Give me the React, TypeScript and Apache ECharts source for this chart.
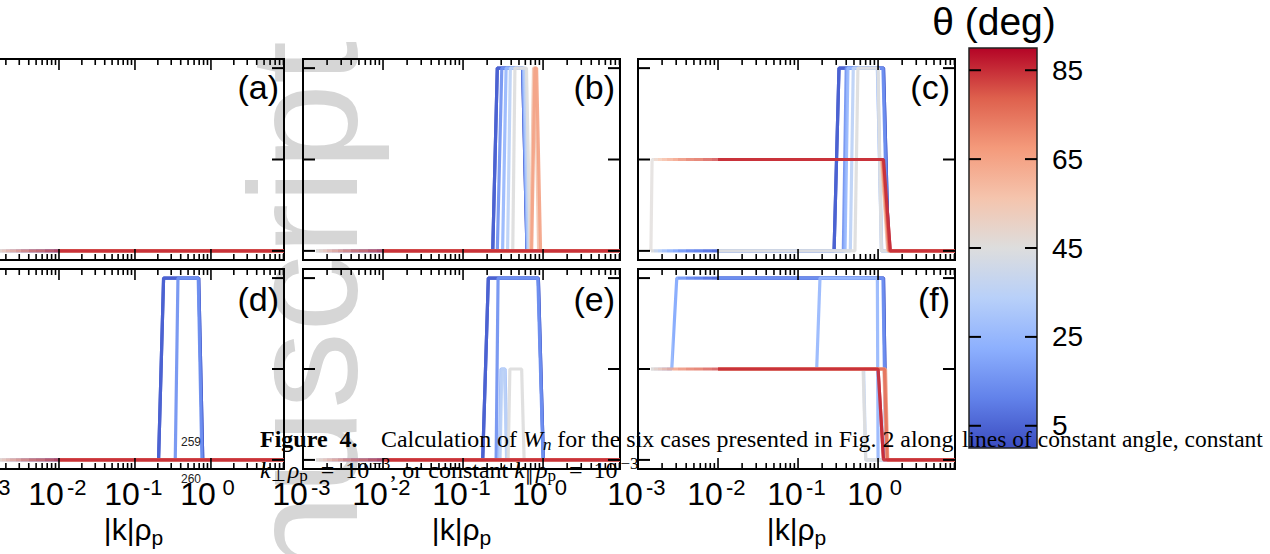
import React, { useEffect, useRef } from "react";
import * as echarts from "echarts";

const SANS = "'Liberation Sans', Arial, Helvetica, sans-serif";
const SERIF = "'Liberation Serif', 'Times New Roman', Times, serif";

// ---------------- data ----------------
const thetas = [5, 15, 25, 35, 45, 55, 65, 75, 85];
const kRange = [0.001, 9.15];
const wRange = [-0.1, 2.1];
const thetaRange = [0, 90];
const xMajorTicks = [0.001, 0.01, 0.1, 1];
const xMinorTicks = [
  0.002, 0.003, 0.004, 0.005, 0.006, 0.007, 0.008, 0.009,
  0.02, 0.03, 0.04, 0.05, 0.06, 0.07, 0.08, 0.09,
  0.2, 0.3, 0.4, 0.5, 0.6, 0.7, 0.8, 0.9,
  2, 3, 4, 5, 6, 7, 8, 9,
];
const yTicks = [0, 1, 2];
const cbTicks = [5, 25, 45, 65, 85];
const panelLabels = ["(a)", "(b)", "(c)", "(d)", "(e)", "(f)"];

// angle (deg) seen along the constant-k lines, per |k| segment
const kGrad = [0.00145, 0.0016, 0.0018, 0.002, 0.0023, 0.0027, 0.0032, 0.004, 0.005, 0.0065, 0.0085, 0.011, 0.02, 0.05, 9.15];
const thetaPar = [46, 51, 56, 60, 64, 68, 72, 76, 78, 81, 83, 85, 87, 89];
const thetaPerp = [44, 39, 34, 30, 26, 22, 18, 14, 12, 9, 7, 5, 3, 1];

const flatConst = [[0.01, 0], [9.15, 0]];
const flatGrad = [[0.00145, 0], [9.15, 0]];

// (a)
const aPerp = flatGrad;
const aPar = flatGrad;
const aTheta = [flatConst, flatConst, flatConst, flatConst, flatConst, flatConst, flatConst, flatConst, flatConst];

// (b)
const bPerp = [[0.00145, 0], [0.235, 0], [0.268, 2], [0.555, 2], [0.63, 0], [9.15, 0]];
const bPar = flatGrad;
const bTheta = [
  [[0.01, 0], [0.235, 0], [0.268, 2], [0.555, 2], [0.63, 0], [9.15, 0]],
  [[0.01, 0], [0.268, 0], [0.305, 2], [0.56, 2], [0.635, 0], [9.15, 0]],
  [[0.01, 0], [0.312, 0], [0.345, 2], [0.57, 2], [0.64, 0], [9.15, 0]],
  [[0.01, 0], [0.36, 0], [0.39, 2], [0.59, 2], [0.66, 0], [9.15, 0]],
  [[0.01, 0], [0.418, 0], [0.445, 2], [0.62, 2], [0.69, 0], [9.15, 0]],
  [[0.01, 0], [0.7, 0], [0.76, 2], [0.8, 2], [0.88, 0], [9.15, 0]],
  [[0.01, 0], [0.72, 0], [0.79, 2], [0.83, 2], [0.93, 0], [9.15, 0]],
  flatConst,
  flatConst,
];

// (c)
const cPerp = [[0.00145, 0], [0.282, 0], [0.325, 2], [1.17, 2], [1.35, 0], [9.15, 0]];
const cPar = [[0.00145, 0], [0.0015, 1], [1.17, 1], [1.42, 0], [9.15, 0]];
const cTheta = [
  [[0.01, 0], [0.282, 0], [0.325, 2], [1.17, 2], [1.35, 0], [9.15, 0]],
  [[0.01, 0], [0.368, 0], [0.4, 2], [1.15, 2], [1.32, 0], [9.15, 0]],
  [[0.01, 0], [0.386, 0], [0.42, 2], [0.98, 2], [1.11, 0], [9.15, 0]],
  [[0.01, 0], [0.45, 0], [0.49, 2], [0.99, 2], [1.1, 0], [9.15, 0]],
  [[0.01, 0], [0.514, 0], [0.56, 2], [1.0, 2], [1.1, 0], [9.15, 0]],
  [[0.01, 1], [1.1, 1], [1.32, 0], [9.15, 0]],
  [[0.01, 1], [1.12, 1], [1.35, 0], [9.15, 0]],
  [[0.01, 1], [1.15, 1], [1.38, 0], [9.15, 0]],
  [[0.01, 1], [1.17, 1], [1.42, 0], [9.15, 0]],
];

// (d)
const dPerp = [[0.00145, 0], [0.2045, 0], [0.238, 2], [0.69, 2], [0.78, 0], [9.15, 0]];
const dPar = flatGrad;
const dTheta = [
  [[0.01, 0], [0.2045, 0], [0.238, 2], [0.69, 2], [0.78, 0], [9.15, 0]],
  [[0.01, 0], [0.339, 0], [0.368, 2], [0.68, 2], [0.76, 0], [9.15, 0]],
  flatConst, flatConst, flatConst, flatConst, flatConst, flatConst, flatConst,
];

// (e)
const ePerp = [[0.00145, 0], [0.176, 0], [0.207, 2], [0.873, 2], [1.01, 0], [9.15, 0]];
const ePar = flatGrad;
const eTheta = [
  [[0.01, 0], [0.176, 0], [0.207, 2], [0.873, 2], [1.01, 0], [9.15, 0]],
  [[0.01, 0], [0.259, 0], [0.274, 2], [0.86, 2], [1.0, 0], [9.15, 0]],
  [[0.01, 0], [0.284, 0], [0.298, 1], [0.335, 1], [0.354, 0], [9.15, 0]],
  [[0.01, 0], [0.29, 0], [0.305, 1], [0.33, 1], [0.35, 0], [9.15, 0]],
  [[0.01, 0], [0.366, 0], [0.385, 1], [0.54, 1], [0.58, 0], [9.15, 0]],
  flatConst, flatConst, flatConst, flatConst,
];

// (f)
const fPerp = [[0.00145, 1], [0.00264, 1], [0.00305, 2], [1.17, 2], [1.27, 0], [9.15, 0]];
const fPar = [[0.00145, 1], [1.0, 1], [1.17, 0], [9.15, 0]];
const fTheta = [
  [[0.01, 2], [1.17, 2], [1.27, 0], [9.15, 0]],
  [[0.01, 2], [1.15, 2], [1.25, 0], [9.15, 0]],
  [[0.01, 1], [0.171, 1], [0.188, 2], [0.98, 2], [1.0, 0], [9.15, 0]],
  [[0.01, 1], [0.66, 1], [0.7, 0], [9.15, 0]],
  [[0.01, 1], [0.65, 1], [0.7, 0], [9.15, 0]],
  [[0.01, 1], [1.18, 1], [1.28, 0], [9.15, 0]],
  [[0.01, 1], [1.24, 1], [1.32, 0], [9.15, 0]],
  [[0.01, 1], [1.2, 1], [1.3, 0], [9.15, 0]],
  [[0.01, 1], [1.0, 1], [1.17, 0], [9.15, 0]],
];

// ---------------- styles ----------------
const coolwarmRGB = [
  [59, 76, 192], [98, 130, 234], [141, 176, 254], [184, 208, 249], [221, 221, 221],
  [245, 196, 173], [244, 154, 123], [222, 96, 77], [180, 4, 38],
];
function coolwarm(t: number): string {
  const x = Math.min(1, Math.max(0, t)) * 8;
  const i = Math.min(7, Math.floor(x));
  const f = x - i;
  const a = coolwarmRGB[i];
  const b = coolwarmRGB[i + 1];
  const c = a.map((v, j) => Math.round(v + (b[j] - v) * f));
  return `rgb(${c[0]},${c[1]},${c[2]})`;
}

const LEFTS = [-17, 303, 638];
const WIDTHS = [301, 317, 317];
const TOPS = [59, 269];
const HEIGHTS = [201, 200];

function renderTicks(params: any, api: any) {
  const cs = params.coordSys;
  const kind = api.value(2);
  const p = api.coord([api.value(0), api.value(1)]);
  const st = { stroke: "#000", lineWidth: kind === 2 ? 2 : 1.6 };
  if (kind === 2) {
    return {
      type: "group",
      children: [
        { type: "line", shape: { x1: cs.x, y1: p[1], x2: cs.x + 12, y2: p[1] }, style: st },
        { type: "line", shape: { x1: cs.x + cs.width, y1: p[1], x2: cs.x + cs.width - 12, y2: p[1] }, style: st },
      ],
    };
  }
  const len = kind === 0 ? 11 : 6;
  const yb = cs.y + cs.height;
  return {
    type: "group",
    children: [
      { type: "line", shape: { x1: p[0], y1: yb, x2: p[0], y2: yb - len }, style: st },
      { type: "line", shape: { x1: p[0], y1: cs.y, x2: p[0], y2: cs.y + len }, style: st },
    ],
  };
}

function renderCb(params: any, api: any) {
  const cs = params.coordSys;
  const p = api.coord([api.value(0), api.value(1)]);
  const st = { stroke: "#000", lineWidth: 2 };
  return {
    type: "group",
    children: [
      { type: "line", shape: { x1: cs.x, y1: p[1], x2: cs.x + 12, y2: p[1] }, style: st },
      { type: "line", shape: { x1: cs.x + cs.width, y1: p[1], x2: cs.x + cs.width - 12, y2: p[1] }, style: st },
      {
        type: "text",
        x: cs.x + cs.width + 15,
        y: p[1],
        style: { text: String(api.value(1)), fontSize: 28, fontFamily: SANS, fill: "#000", align: "left", verticalAlign: "middle" },
      },
    ],
  };
}

function xLabelFmt(v: number): string {
  const l = Math.log10(v);
  const e = Math.round(l);
  if (Math.abs(l - e) > 1e-6 || e > 0) return "";
  return `{b|10}{s|${e}}`;
}

function buildOption() {
  const panels = [
    { perp: aPerp, par: aPar, th: aTheta },
    { perp: bPerp, par: bPar, th: bTheta },
    { perp: cPerp, par: cPar, th: cTheta },
    { perp: dPerp, par: dPar, th: dTheta },
    { perp: ePerp, par: ePar, th: eTheta },
    { perp: fPerp, par: fPar, th: fTheta },
  ];
  const grids: any[] = [];
  const xAxes: any[] = [];
  const yAxes: any[] = [];
  const series: any[] = [];
  const perpIdx: number[] = [];
  const parIdx: number[] = [];
  const tickData = [
    ...xMajorTicks.map((k) => [k, 0, 0]),
    ...xMinorTicks.map((k) => [k, 0, 1]),
    ...yTicks.map((w) => [1, w, 2]),
  ];
  const graphics: any[] = [];

  panels.forEach((pd, p) => {
    const row = Math.floor(p / 3);
    const col = p % 3;
    grids.push({
      left: LEFTS[col], top: TOPS[row], width: WIDTHS[col], height: HEIGHTS[row],
      show: true, borderColor: "#000", borderWidth: 2, backgroundColor: "transparent",
      containLabel: false, outerBoundsMode: "none",
    });
    xAxes.push({
      type: "log", logBase: 10, gridIndex: p, min: kRange[0], max: kRange[1],
      axisLine: { show: false }, axisTick: { show: false }, splitLine: { show: false },
      axisLabel: row === 1
        ? {
            show: true, margin: 7, color: "#000", formatter: xLabelFmt, showMaxLabel: false, hideOverlap: false,
            rich: {
              b: { fontSize: 32, lineHeight: 36, fontFamily: SANS, color: "#000" },
              s: { fontSize: 22, lineHeight: 22, fontFamily: SANS, color: "#000", verticalAlign: "top", width: 26, align: "left" },
            },
          }
        : { show: false },
      name: row === 1 ? "|k|ρ{p|p}" : "",
      nameLocation: "middle",
      nameGap: 42,
      nameTextStyle: {
        fontSize: 30, color: "#000", fontFamily: SANS,
        rich: { p: { fontSize: 21, fontFamily: SANS, color: "#000", padding: [16, 0, 0, 0] } },
      },
    });
    yAxes.push({ type: "value", gridIndex: p, min: wRange[0], max: wRange[1], show: false });

    perpIdx.push(series.length);
    series.push({
      type: "line", xAxisIndex: p, yAxisIndex: p, data: pd.perp, symbol: "none", showSymbol: false,
      lineStyle: { width: 3.2 }, z: 2, silent: true,
    });
    parIdx.push(series.length);
    series.push({
      type: "line", xAxisIndex: p, yAxisIndex: p, data: pd.par, symbol: "none", showSymbol: false,
      lineStyle: { width: 3.2, opacity: 0.75 }, z: 2, silent: true,
    });
    thetas.forEach((th, j) => {
      series.push({
        type: "line", xAxisIndex: p, yAxisIndex: p, data: pd.th[j], symbol: "none", showSymbol: false,
        lineStyle: { width: 3.2, color: coolwarm(th / 90), opacity: 0.92 }, itemStyle: { color: coolwarm(th / 90) },
        z: 2, silent: true,
      });
    });
    series.push({
      type: "custom", xAxisIndex: p, yAxisIndex: p, data: tickData, renderItem: renderTicks,
      encode: { x: 0, y: 1 }, clip: false, silent: true, z: 5,
    });

    graphics.push({
      type: "text",
      x: LEFTS[col] + WIDTHS[col] - 5,
      y: TOPS[row] + (row ? 30 : 28),
      z: 20,
      style: { text: panelLabels[p], fontSize: 34, fontFamily: SANS, fill: "#000", align: "right", verticalAlign: "middle" },
    });
  });

  // colour bar
  grids.push({
    left: 969, top: 48, width: 68, height: 400, show: true, borderColor: "#222", borderWidth: 1.5,
    containLabel: false, outerBoundsMode: "none",
    backgroundColor: {
      type: "linear", x: 0, y: 1, x2: 0, y2: 0,
      colorStops: coolwarmRGB.map((c, i) => ({ offset: i / 8, color: `rgb(${c[0]},${c[1]},${c[2]})` })),
    },
  });
  xAxes.push({ type: "value", gridIndex: 6, min: 0, max: 1, show: false });
  yAxes.push({ type: "value", gridIndex: 6, min: thetaRange[0], max: thetaRange[1], show: false });
  series.push({
    type: "custom", xAxisIndex: 6, yAxisIndex: 6, data: cbTicks.map((t) => [0.5, t]),
    renderItem: renderCb, encode: { x: 0, y: 1 }, clip: false, silent: true, z: 5,
  });

  const perpPieces = kGrad.slice(0, -1).map((k, i) =>
    i === kGrad.length - 2
      ? { gte: k, lte: kGrad[i + 1], color: coolwarm(thetaPerp[i] / 90) }
      : { gte: k, lt: kGrad[i + 1], color: coolwarm(thetaPerp[i] / 90) }
  );
  const parPieces = kGrad.slice(0, -1).map((k, i) =>
    i === kGrad.length - 2
      ? { gte: k, lte: kGrad[i + 1], color: coolwarm(thetaPar[i] / 90) }
      : { gte: k, lt: kGrad[i + 1], color: coolwarm(thetaPar[i] / 90) }
  );

  const capRich = {
    w: { fontSize: 23.9, fontStyle: "italic", fontFamily: SERIF, fill: "#000" },
    n: { fontSize: 17, fontStyle: "italic", fontFamily: SERIF, fill: "#000", padding: [10, 0, 0, 0] },
    i: { fontSize: 24, fontStyle: "italic", fontFamily: SERIF, fill: "#000" },
    s: { fontSize: 17, fontFamily: SERIF, fill: "#000", padding: [10, 2, 0, 0] },
    u: { fontSize: 17, fontFamily: SERIF, fill: "#000", padding: [0, 0, 13, 3] },
    e: { fontSize: 24, fontFamily: SERIF, fill: "#000", padding: [0, 11, 0, 11] },
  };

  graphics.unshift({
    type: "text", x: 304, y: 41, rotation: Math.PI / 2, z: -10, silent: true,
    style: { text: "Manuscript", fontSize: 154, fontFamily: SANS, fill: "#d6d6d6", align: "right", verticalAlign: "middle" },
  });
  graphics.push(
    {
      type: "text", x: 994, y: 21, z: 20,
      style: { text: "θ (deg)", fontSize: 39, fontFamily: SANS, fill: "#000", align: "center", verticalAlign: "middle" },
    },
    {
      type: "text", x: 260, y: 439, z: 30,
      style: { text: "Figure  4.", fontSize: 24, fontWeight: "bold", fontFamily: SERIF, fill: "#000", align: "left", verticalAlign: "middle" },
    },
    {
      type: "text", x: 381, y: 439, z: 30,
      style: {
        text: "Calculation of {w|W}{n|n} for the six cases presented in Fig. 2 along",
        fontSize: 23.9, fontFamily: SERIF, fill: "#000", align: "left", verticalAlign: "middle", rich: capRich,
      },
    },
    {
      type: "text", x: 962, y: 439, z: 30,
      style: {
        text: "lines of constant angle, constant",
        fontSize: 23.5, fontFamily: SERIF, fill: "#000", align: "left", verticalAlign: "middle",
      },
    },
    {
      type: "text", x: 260, y: 470, z: 30,
      style: {
        text: "{i|k}{s|⊥}{i|ρ}{s|p}{e|=}10{u|−3}, or constant {i|k}{s|∥}{i|ρ}{s|p}{e|=}10{u|−3}",
        fontSize: 24, fontFamily: SERIF, fill: "#000", align: "left", verticalAlign: "middle", rich: capRich,
      },
    },
    {
      type: "text", x: 181, y: 442, z: 30,
      style: { text: "259", fontSize: 12, fontFamily: SANS, fill: "#222", align: "left", verticalAlign: "middle" },
    },
    {
      type: "text", x: 181, y: 479, z: 30,
      style: { text: "260", fontSize: 12, fontFamily: SANS, fill: "#222", align: "left", verticalAlign: "middle" },
    }
  );

  return {
    animation: false,
    backgroundColor: "#ffffff",
    grid: grids,
    xAxis: xAxes,
    yAxis: yAxes,
    visualMap: [
      { type: "piecewise", show: false, seriesIndex: perpIdx, dimension: 0, pieces: perpPieces, outOfRange: { color: coolwarm(thetaPerp[0] / 90) } },
      { type: "piecewise", show: false, seriesIndex: parIdx, dimension: 0, pieces: parPieces, outOfRange: { color: coolwarm(thetaPar[0] / 90) } },
    ],
    series,
    graphic: graphics,
  };
}

export default function App() {
  const ref = useRef<HTMLDivElement>(null);
  useEffect(() => {
    if (!ref.current) return;
    const chart = echarts.init(ref.current, null, { renderer: "svg" });
    chart.setOption(buildOption() as any);
    return () => chart.dispose();
  }, []);
  return (
    <div
      ref={ref}
      style={{ position: "absolute", left: 0, top: 0, width: 1270, height: 554, background: "#fff" }}
    />
  );
}
